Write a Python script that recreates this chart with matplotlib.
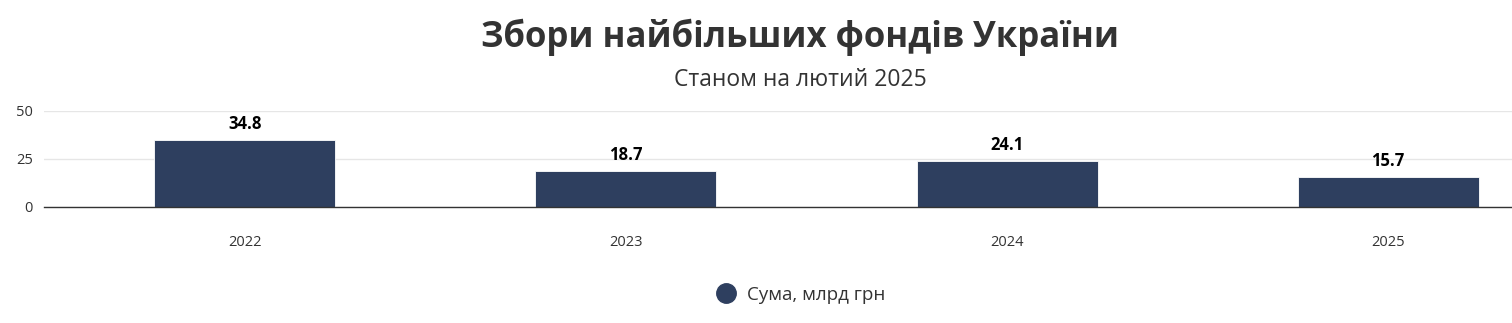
import matplotlib
matplotlib.use('Agg')
import matplotlib.pyplot as plt
from matplotlib.lines import Line2D

plt.rcParams['font.family'] = ['Open Sans', 'DejaVu Sans']

years = ['2022', '2023', '2024', '2025']
values = [34.8, 18.7, 24.1, 15.7]
yticks = [0, 25, 50]

title = 'Збори найбільших фондів України'
subtitle = 'Станом на лютий 2025'
series_name = 'Сума, млрд грн'
bar_color = '#2e3f5f'

W, H = 1512, 323
fig = plt.figure(figsize=(W / 100, H / 100), dpi=100)
ax = fig.add_axes([44 / W, (H - 207) / H, (1512 - 44) / W, 96 / H])

x = list(range(len(years)))
bars = ax.bar(x, values, width=0.475, color=bar_color, edgecolor='white', linewidth=0.6, zorder=3)
for xi, v in zip(x, values):
    ax.annotate(f'{v}', (xi, v), xytext=(0, 5), textcoords='offset points',
                ha='center', va='bottom', fontsize=12, fontweight='bold', color='black', zorder=4)

ax.set_xlim(-0.527, 3.325)
ax.set_ylim(0, 50)
ax.set_yticks(yticks)
ax.set_xticks(x)
ax.set_xticklabels(years)
ax.tick_params(axis='both', length=0, labelsize=10.5, colors='#333333')
ax.tick_params(axis='x', pad=20)
ax.tick_params(axis='y', pad=8)
ax.grid(axis='y', color='#e6e6e6', linewidth=1, zorder=0)
for s in ['top', 'right', 'left']:
    ax.spines[s].set_visible(False)
ax.spines['bottom'].set_color('#333333')
ax.spines['bottom'].set_linewidth(1)
ax.spines['bottom'].set_zorder(5)

fig.text(800 / W, 1 - 47 / H, title, ha='center', va='baseline', fontsize=25,
         fontweight='bold', color='#333333')
fig.text(800 / W, 1 - 86 / H, subtitle, ha='center', va='baseline', fontsize=16.5,
         color='#333333')

handle = Line2D([], [], marker='o', linestyle='none', markersize=14,
                markerfacecolor=bar_color, markeredgecolor=bar_color)
fig.legend([handle], [series_name], loc='center', bbox_to_anchor=(796 / W, 1 - 295 / H),
           frameon=False, fontsize=13.5, handletextpad=0.1, labelcolor='#333333')

fig.savefig('out.png', dpi=100)
